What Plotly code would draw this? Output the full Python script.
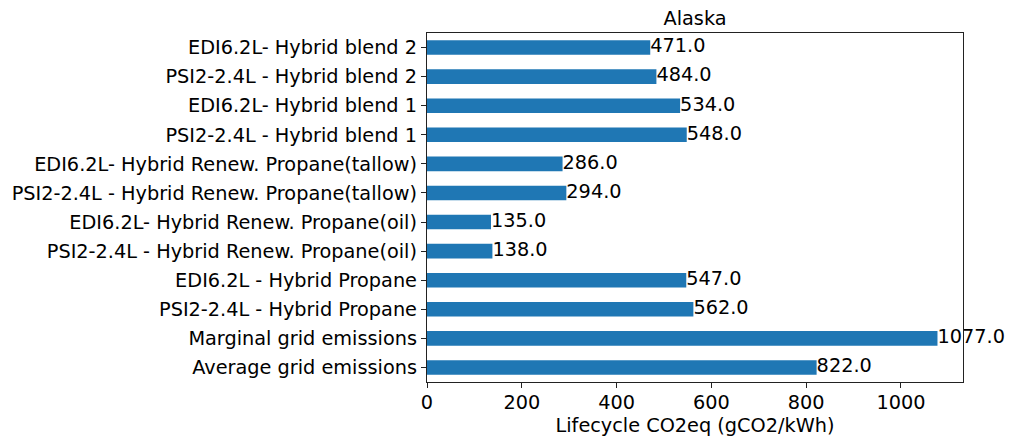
import plotly.graph_objects as go

categories = [
    "Average grid emissions",
    "Marginal grid emissions",
    "PSI2-2.4L - Hybrid Propane",
    "EDI6.2L - Hybrid Propane",
    "PSI2-2.4L - Hybrid Renew. Propane(oil)",
    "EDI6.2L- Hybrid Renew. Propane(oil)",
    "PSI2-2.4L - Hybrid Renew. Propane(tallow)",
    "EDI6.2L- Hybrid Renew. Propane(tallow)",
    "PSI2-2.4L - Hybrid blend 1",
    "EDI6.2L- Hybrid blend 1",
    "PSI2-2.4L - Hybrid blend 2",
    "EDI6.2L- Hybrid blend 2",
]
values = [822.0, 1077.0, 562.0, 547.0, 138.0, 135.0, 294.0, 286.0, 548.0, 534.0, 484.0, 471.0]

positions = list(range(len(categories)))
font = dict(family="DejaVu Sans", size=19.3, color="black")

fig = go.Figure()
fig.add_trace(go.Bar(
    x=values,
    y=positions,
    orientation="h",
    width=0.5,
    marker=dict(color="#1f77b4", line=dict(width=0)),
))
# value labels as a text trace so plotly doesn't shrink them to the bar height
fig.add_trace(go.Scatter(
    x=values,
    y=positions,
    mode="text",
    text=[f"{v:.1f}" for v in values],
    textposition="middle right",
    textfont=font,
    cliponaxis=False,
    hoverinfo="skip",
))

# page has an 8px body margin, so shift margins to line up with reference
fig.update_layout(
    width=1016,
    height=440,
    margin=dict(l=419, r=61, t=25, b=66),
    plot_bgcolor="white",
    paper_bgcolor="white",
    font=font,
    showlegend=False,
    title=dict(text="Alaska", x=687 / 1016, xanchor="center", y=1 - 10 / 440,
               yanchor="middle", font=font),
)
fig.update_xaxes(
    range=[0, max(values) * 1.05],
    tickvals=[0, 200, 400, 600, 800, 1000],
    ticks="outside", ticklen=5, tickcolor="#222", tickwidth=1.2,
    ticklabelstandoff=-2,
    showline=True, linecolor="#222", linewidth=1.3, mirror=True,
    showgrid=False, zeroline=False, automargin=False,
    title=dict(text="Lifecycle CO2eq (gCO2/kWh)", font=font, standoff=4),
)
fig.update_yaxes(
    range=[-0.5, len(categories) - 0.5],
    tickvals=positions, ticktext=categories,
    ticks="outside", ticklen=5, tickcolor="#222", tickwidth=1.2,
    showline=True, linecolor="#222", linewidth=1.3, mirror=True,
    showgrid=False, zeroline=False, automargin=False,
)

fig.write_html("out.html")
